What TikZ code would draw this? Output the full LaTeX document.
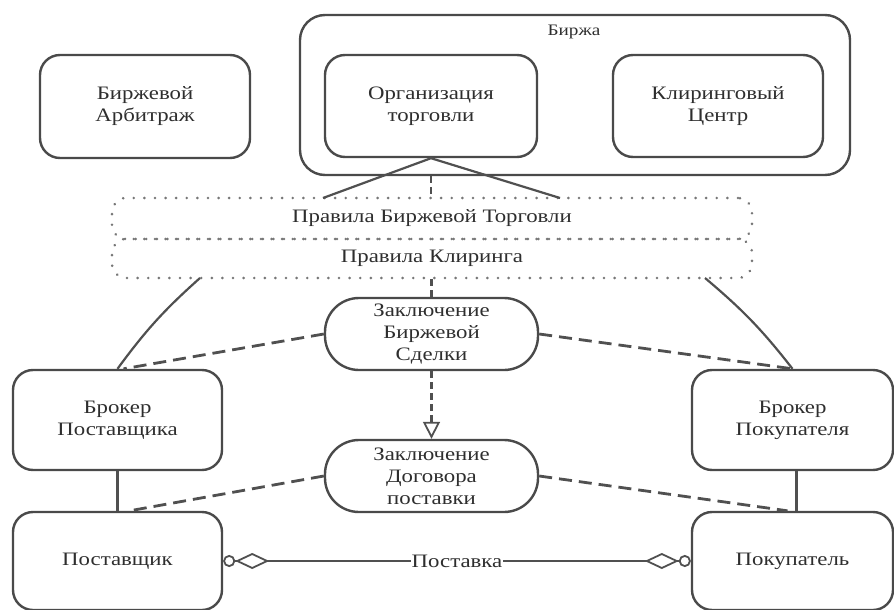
\documentclass[tikz,border=0pt]{standalone}
\usepackage{fontspec}
\setmainfont{Liberation Serif}[FakeStretch=1.2]
\usetikzlibrary{arrows.meta,calc}
\definecolor{bordc}{HTML}{4A4A4A}
\definecolor{txtc}{HTML}{2E2E2E}
\definecolor{linec}{HTML}{505050}
\definecolor{dotc}{HTML}{777777}
\begin{document}
\begin{tikzpicture}[x=1pt,y=-1pt,
  txt/.style={text=txtc, font=\fontsize{19}{22}\selectfont, align=center},
  box/.style={txt, draw=bordc, line width=2.4pt, rounded corners=20pt, inner sep=0pt},
  stad/.style={txt, draw=bordc, line width=2.4pt, rounded corners=34pt, inner sep=0pt, minimum width=213pt, minimum height=72pt},
  rulebox/.style={txt, draw=dotc, line width=2.8pt, dash pattern=on 0.1pt off 10.5pt, line cap=round, rounded corners=14pt, minimum width=640pt, inner sep=0pt},
  solidc/.style={draw=linec, line width=2.2pt},
  dashc/.style={draw=linec, line width=2.8pt, dash pattern=on 13pt off 7pt},
  shortdash/.style={draw=linec, line width=2.2pt, dash pattern=on 7pt off 4pt},
]
\useasboundingbox (0,0) rectangle (894,610);
\node[box, minimum width=550pt, minimum height=160pt, rounded corners=25pt] (birzha) at (575,95) {};
\node[txt, font=\fontsize{16}{20}\selectfont] (birzhalbl) at (574,32) {Биржа};
\node[box, minimum width=212pt, minimum height=102pt] (org) at (431,106) {Организация\\торговли};
\node[box, minimum width=210pt, minimum height=102pt] (clr) at (718,106) {Клиринговый\\Центр};
\node[box, minimum width=210pt, minimum height=103pt] (arb) at (145,106.5) {Биржевой\\Арбитраж};
\node[rulebox, minimum height=41pt] (rules1) at (432,218.5) {Правила Биржевой Торговли};
\node[rulebox, minimum height=39pt] (rules2) at (432,258.5) {Правила Клиринга};
\node[stad] (sdelka) at (431.5,334) {Заключение\\Биржевой\\Сделки};
\node[stad] (dogovor) at (431.5,476) {Заключение\\Договора\\поставки};
\node[box, minimum width=209pt, minimum height=100pt] (bp) at (117.5,420) {Брокер\\Поставщика};
\node[box, minimum width=209pt, minimum height=98pt] (pst) at (117.5,561) {Поставщик};
\node[box, minimum width=201pt, minimum height=100pt] (bb) at (792.5,420) {Брокер\\Покупателя};
\node[box, minimum width=201pt, minimum height=98pt] (pk) at (792.5,561) {Покупатель};
\coordinate (tl) at (323,198);
\coordinate (tr) at (560,198);
\coordinate (bl) at (200,278);
\coordinate (br) at (705,278);
\draw[solidc] (tl) -- (org.south) -- (tr);
\draw[shortdash] (org.south |- birzha.south) -- (org.south |- rules1.north);
\draw[shortdash] (sdelka.north |- rules2.south) -- (sdelka.north);
\draw[solidc] (bl) to[bend right=6] (bp.north);
\draw[solidc] (br) to[bend left=6] (bb.north);
\draw[dashc] (sdelka.west) -- ([xshift=6pt]bp.north);
\draw[dashc] (sdelka.east) -- (bb.north);
\draw[dashc] (dogovor.west) -- ([xshift=12pt]pst.north);
\draw[dashc] (dogovor.east) -- ([xshift=-5pt]pk.north);
\draw[shortdash, -{Triangle[open, length=17pt, width=17pt, line width=1.8pt]}] (sdelka.south) -- (dogovor.north);
\draw[solidc] (bp.south) -- (pst.north);
\draw[solidc] ([xshift=4pt]bb.south) -- ([xshift=4pt]pk.north);
\draw[solidc, line width=1.8pt, {Circle[open,length=12pt,fill=white] Diamond[open,length=34pt,width=16pt,fill=white]}-{Diamond[open,length=34pt,width=16pt,fill=white] Circle[open,length=12pt,fill=white]}] (pst.east) -- node[txt, fill=white, inner sep=1pt] (postavka) {Поставка} (pk.west);
\end{tikzpicture}
\end{document}
